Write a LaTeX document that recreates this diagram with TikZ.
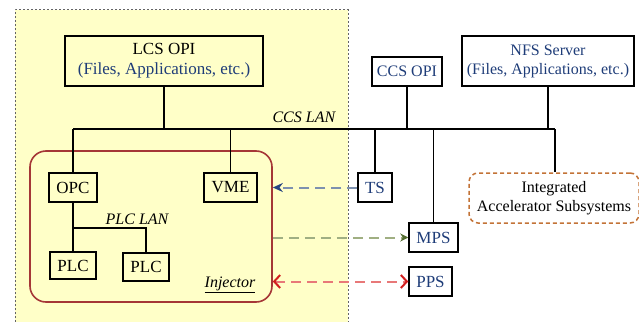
\documentclass[tikz,border=0pt]{standalone}
\usepackage{fontspec}
\setmainfont{Liberation Serif}
\usetikzlibrary{arrows.meta}
\definecolor{zoneyellow}{RGB}{255,255,200}
\definecolor{zoneedge}{RGB}{100,100,100}
\definecolor{injred}{RGB}{165,55,55}
\definecolor{txtblue}{RGB}{30,60,120}
\definecolor{iasorange}{RGB}{195,115,55}
\definecolor{tsline}{RGB}{125,145,175}
\definecolor{tshead}{RGB}{40,70,130}
\definecolor{mpsline}{RGB}{160,175,130}
\definecolor{mpshead}{RGB}{85,110,50}
\definecolor{ppsline}{RGB}{232,120,120}
\definecolor{ppshead}{RGB}{210,30,30}

\begin{document}
\begin{tikzpicture}[x=1pt,y=-1pt,line width=1.5pt,
  box/.style={draw,inner sep=0pt,align=center,font=\fontsize{17}{20}\selectfont},
  smallbox/.style={box,font=\fontsize{16}{19}\selectfont},
  lan/.style={inner sep=0pt,font=\fontsize{16}{19}\selectfont\itshape},
  link/.style={dash pattern=on 10pt off 6pt,line width=2pt}]
\useasboundingbox (0,0) rectangle (639,321);
\fill[zoneyellow] (15,10) rectangle (348,330);
\draw[zoneedge,line width=1pt,dash pattern=on 2pt off 2pt] (15,330) -- (15,10) -- (348,10) -- (348,330);
\node[draw=injred,line width=1.6pt,rounded corners=16pt,minimum width=242pt,minimum height=151pt] (injector) at (151,226.5) {};
\node[lan] (injlabel) at (230,285) {\underline{Injector}};
\node[box,minimum width=198pt,minimum height=50pt] (lcs) at (164,61) {LCS OPI\\\textcolor{txtblue}{(Files, Applications, etc.)}};
\node[smallbox,minimum width=70pt,minimum height=29pt,text=txtblue] (ccsopi) at (407,71.5) {CCS OPI};
\node[smallbox,minimum width=172pt,minimum height=50pt,text=txtblue] (nfs) at (548,61) {NFS Server\\(Files, Applications, etc.)};
\node[box,minimum width=48pt,minimum height=29pt] (opc) at (73,187.5) {OPC};
\node[box,minimum width=53pt,minimum height=29pt] (vme) at (230.5,187.5) {VME};
\node[box,minimum width=46pt,minimum height=27pt] (plc1) at (73,265.5) {PLC};
\node[box,minimum width=46pt,minimum height=28pt] (plc2) at (146,267) {PLC};
\node[box,minimum width=34pt,minimum height=29pt,text=txtblue] (ts) at (375,187.5) {TS};
\node[box,minimum width=49pt,minimum height=29pt,text=txtblue] (mps) at (433.5,237.5) {MPS};
\node[box,minimum width=43pt,minimum height=29pt,text=txtblue] (pps) at (430.5,281.5) {PPS};
\node[smallbox,draw=iasorange,dash pattern=on 4pt off 3pt,rounded corners=9pt,minimum width=170pt,minimum height=50pt] (ias) at (554,198) {Integrated\\Accelerator Subsystems};
\node[lan,anchor=east] (ccslan) at (336,117) {CCS LAN};
\node[lan] (plclan) at (137,219) {PLC LAN};
\coordinate (busL) at (73,129);
\coordinate (busR) at (555,129);
\coordinate (plcbus) at (73,228);
\draw (busL) -- (busR);
\draw (lcs.south) -- (lcs.south |- busL);
\draw (ccsopi.south) -- (ccsopi.south |- busL);
\draw (nfs.south) -- (nfs.south |- busL);
\draw (busL) -- (opc.north);
\draw (vme.north |- busL) -- (vme.north);
\draw (ts.north |- busL) -- (ts.north);
\draw (mps.north |- busL) -- (mps.north);
\draw (busR) -- (busR |- ias.north);
\draw (opc.south) -- (plc1.north);
\draw (plcbus) -- (plcbus -| plc2.north) -- (plc2.north);
\draw[link,tsline,-{Stealth[length=10pt,width=9pt,color=tshead]}] (ts.west) -- (injector.east |- ts.west);
\draw[link,mpsline,-{Stealth[length=8pt,width=8pt,color=mpshead]}] (injector.east |- mps.west) -- (mps.west);
\draw[link,ppsline,{Straight Barb[length=6pt,width=13pt,color=ppshead]}-{Straight Barb[length=6pt,width=13pt,color=ppshead]}] (injector.east |- pps.west) -- (pps.west);
\end{tikzpicture}
\end{document}
